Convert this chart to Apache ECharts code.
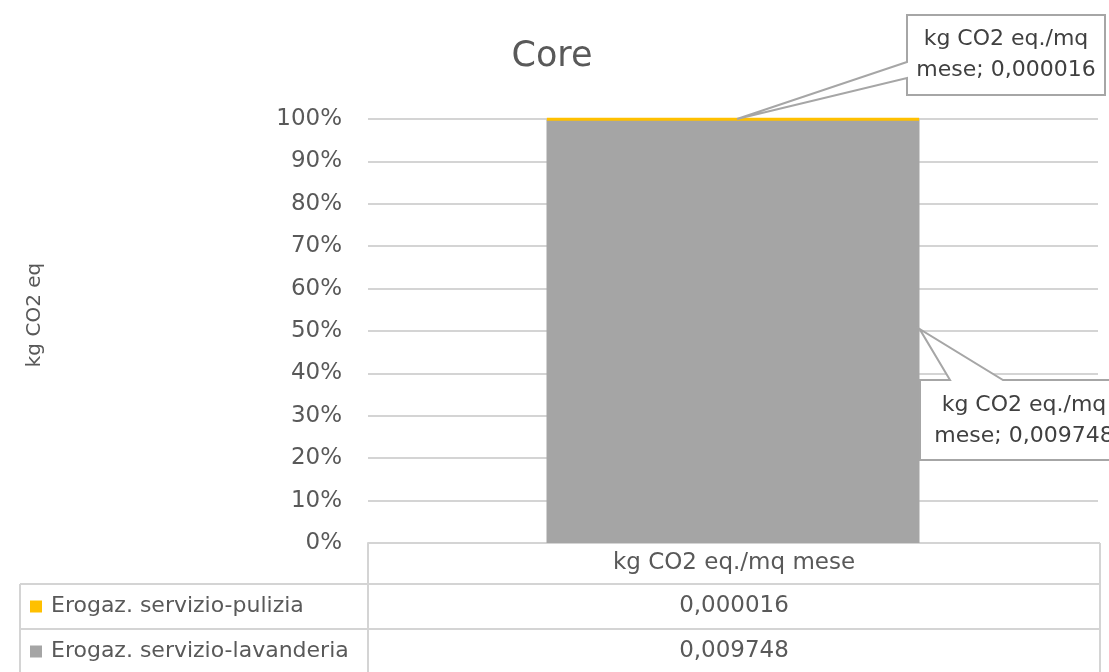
<!DOCTYPE html>
<html>
<head>
<meta charset="utf-8">
<script src="https://cdn.jsdelivr.net/npm/echarts@6/dist/echarts.min.js"></script>
<style>
  html, body { margin: 0; padding: 0; background: #fff; }
  #main { width: 1109px; height: 672px; }
</style>
</head>
<body>
<div id="main"></div>
<script>
var categories = ['kg CO2 eq./mq mese'];
var seriesNames = ['Erogaz. servizio-pulizia', 'Erogaz. servizio-lavanderia'];
var seriesColors = ['#ffc000', '#a5a5a5'];
var pulizia = [0.000016];
var lavanderia = [0.009748];
var valueLabels = ['0,000016', '0,009748'];
var yTicks = [0, 10, 20, 30, 40, 50, 60, 70, 80, 90, 100];

var FONT = 'DejaVu Sans';
var TXT = '#595959';
var LINE = '#d4d4d4';

// layout of plot area and data table
var gridLeft = 368, gridRight = 11, gridTop = 119, gridBottom = 129;
var tableLeft = 20, rowH = [41, 45, 45];

// 100% stacked: convert values to shares
var totals = pulizia.map(function (v, i) { return v + lavanderia[i]; });
var pctPulizia = pulizia.map(function (v, i) { return v / totals[i] * 100; });
var pctLavanderia = lavanderia.map(function (v, i) { return v / totals[i] * 100; });

var chartDom = document.getElementById('main');
var myChart = echarts.init(chartDom);

var option = {
  animation: false,
  textStyle: { fontFamily: FONT },
  title: {
    text: 'Core',
    left: 547, textAlign: 'center',
    top: 34,
    textStyle: { fontFamily: FONT, fontSize: 35, fontWeight: 'normal', color: TXT }
  },
  grid: { left: gridLeft, right: gridRight, top: gridTop, bottom: gridBottom },
  xAxis: {
    type: 'category',
    data: categories,
    axisLine: { lineStyle: { color: LINE, width: 2 } },
    axisTick: { show: false },
    axisLabel: { show: false }
  },
  yAxis: {
    type: 'value',
    min: yTicks[0], max: yTicks[yTicks.length - 1], interval: yTicks[1] - yTicks[0],
    axisLine: { show: false },
    axisTick: { show: false },
    axisLabel: { formatter: '{value}%', fontFamily: FONT, fontSize: 23, color: TXT, margin: 26 },
    splitLine: { lineStyle: { color: LINE, width: 2 } }
  },
  series: [
    {
      name: seriesNames[1], type: 'bar', stack: 'all',
      data: pctLavanderia, barWidth: 373,
      itemStyle: { color: seriesColors[1] }
    },
    {
      name: seriesNames[0], type: 'bar', stack: 'all',
      data: pctPulizia, barWidth: 373,
      itemStyle: { color: seriesColors[0], borderColor: seriesColors[0], borderWidth: 3 }
    }
  ]
};
myChart.setOption(option);

// data table under the plot
var W = 1109, H = 672;
var plotBottom = H - gridBottom;
var xRight = W - 9;
var g = [];
var y0 = plotBottom, y1 = y0 + rowH[0], y2 = y1 + rowH[1], y3 = y2 + rowH[2];
var lineStyle = { stroke: LINE, lineWidth: 2 };
function hline(x1, x2, y) { g.push({ type: 'line', shape: { x1: x1, y1: y, x2: x2, y2: y }, style: lineStyle, silent: true }); }
function vline(x, ya, yb) { g.push({ type: 'line', shape: { x1: x, y1: ya, x2: x, y2: yb }, style: lineStyle, silent: true }); }
hline(gridLeft, xRight, y0);
hline(tableLeft, xRight, y1);
hline(tableLeft, xRight, y2);
vline(gridLeft, y0, y3);
vline(xRight, y0, y3);
vline(tableLeft, y1, y3);
var midX = (gridLeft + xRight) / 2;
function txt(x, y, s, align, size) {
  g.push({ type: 'text', x: x, y: y, silent: true,
    style: { text: s, fill: TXT, font: size + 'px "' + FONT + '"', textAlign: align, textVerticalAlign: 'middle' } });
}
txt(midX, (y0 + y1) / 2, categories[0], 'center', 23);
var rowsY = [(y1 + y2) / 2, (y2 + y3) / 2];
[0, 1].forEach(function (i) {
  g.push({ type: 'rect', shape: { x: 30, y: rowsY[i] - 6, width: 12, height: 12 }, style: { fill: seriesColors[i] }, silent: true });
  txt(51, rowsY[i], seriesNames[i], 'left', 22);
  txt(midX, rowsY[i], valueLabels[i], 'center', 23);
});

// y axis title
g.push({ type: 'text', x: 35, y: 315, rotation: Math.PI / 2, silent: true,
  style: { text: 'kg CO2 eq', fill: TXT, font: '20px "' + FONT + '"', textAlign: 'center', textVerticalAlign: 'middle' } });

// callouts pointing to the stack
var barHalf = 373 / 2;
var topPt = myChart.convertToPixel({ seriesIndex: 1 }, [0, 100]);
var midPt = myChart.convertToPixel({ seriesIndex: 0 }, [0, 50.5]);
var tip1 = [topPt[0] + 4, topPt[1]];
var tip2 = [midPt[0] + barHalf, midPt[1]];
var calloutStyle = { fill: '#fff', stroke: '#a6a6a6', lineWidth: 2 };
g.push({ type: 'polygon', silent: true, style: calloutStyle, z: 100,
  shape: { points: [[907, 15], [1105, 15], [1105, 95], [907, 95], [907, 78], tip1, [907, 62]] } });
g.push({ type: 'polygon', silent: true, style: calloutStyle, z: 100,
  shape: { points: [[920, 380], [950, 380], tip2, [1003, 380], [1120, 380], [1120, 460], [920, 460]] } });
function callText(x, y, s) {
  g.push({ type: 'text', x: x, y: y, z: 101, silent: true,
    style: { text: s, fill: '#404040', font: '22px "' + FONT + '"', textAlign: 'center', textVerticalAlign: 'middle', lineHeight: 31 } });
}
callText(1006, 55, categories[0].replace(' mese', '') + '\nmese; ' + valueLabels[0]);
callText(1024, 421, categories[0].replace(' mese', '') + '\nmese; ' + valueLabels[1]);

myChart.setOption({ graphic: g });
</script>
</body>
</html>
